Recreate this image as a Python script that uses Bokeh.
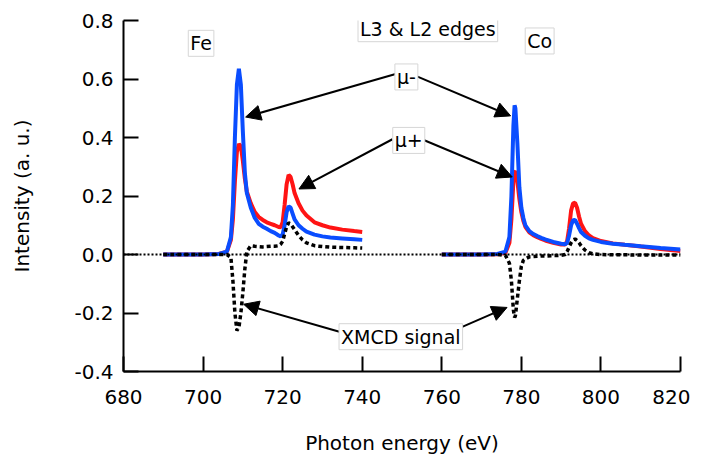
from bokeh.plotting import figure
from bokeh.models import (Range1d, FixedTicker, PrintfTickFormatter, Span, Label,
                          Arrow, NormalHead)
from bokeh.embed import file_html
from bokeh.resources import INLINE

# ---------------- data ----------------
fe_energy = [690, 700, 704, 706, 707, 707.5, 708, 708.5, 709, 709.5, 710, 710.5, 711,
             712, 713, 714, 715, 716, 717, 718, 719, 719.5, 720, 720.5, 721, 721.5,
             722, 722.5, 723, 724, 725, 726, 728, 730, 732, 735, 738, 740]
fe_mu_minus = [0.0, 0.0, 0.002, 0.01, 0.06, 0.17, 0.40, 0.58, 0.635, 0.58, 0.42, 0.28, 0.21,
               0.16, 0.125, 0.105, 0.095, 0.088, 0.08, 0.074, 0.065, 0.062, 0.068, 0.10, 0.145, 0.165,
               0.16, 0.14, 0.12, 0.10, 0.088, 0.078, 0.068, 0.062, 0.058, 0.055, 0.052, 0.050]
fe_mu_plus = [0.0, 0.0, 0.002, 0.01, 0.05, 0.12, 0.25, 0.35, 0.378, 0.37, 0.32, 0.26, 0.215,
              0.175, 0.145, 0.128, 0.118, 0.11, 0.105, 0.10, 0.094, 0.093, 0.11, 0.17, 0.24, 0.272,
              0.265, 0.24, 0.21, 0.175, 0.15, 0.133, 0.11, 0.10, 0.092, 0.085, 0.08, 0.077]
fe_xmcd = [0.0, 0.0, 0.0, 0.0, -0.01, -0.09, -0.2, -0.26, -0.25, -0.2, -0.13, -0.05, 0.01,
           0.03, 0.028, 0.027, 0.026, 0.027, 0.028, 0.028, 0.03, 0.035, 0.045, 0.07, 0.095, 0.108,
           0.105, 0.095, 0.085, 0.065, 0.05, 0.04, 0.03, 0.027, 0.025, 0.024, 0.023, 0.022]

co_energy = [760, 770, 774, 776, 777, 777.5, 778, 778.3, 778.5, 779, 779.5, 780, 780.5, 781,
             782, 783, 784, 785, 786, 788, 790, 791, 791.5, 792, 792.5, 793, 793.5, 794,
             794.5, 795, 796, 797, 798, 800, 803, 806, 810, 815, 820]
co_mu_minus = [0.0, 0.0, 0.002, 0.01, 0.06, 0.2, 0.44, 0.51, 0.5, 0.38, 0.23, 0.16, 0.125, 0.10,
               0.08, 0.07, 0.063, 0.057, 0.052, 0.043, 0.037, 0.035, 0.04, 0.065, 0.10, 0.117, 0.118, 0.105,
               0.09, 0.077, 0.064, 0.055, 0.05, 0.043, 0.037, 0.033, 0.028, 0.022, 0.017]
co_mu_plus = [0.0, 0.0, 0.001, 0.006, 0.04, 0.12, 0.25, 0.282, 0.285, 0.25, 0.19, 0.145, 0.115, 0.095,
              0.076, 0.066, 0.059, 0.053, 0.048, 0.04, 0.034, 0.034, 0.045, 0.09, 0.15, 0.175, 0.177, 0.16,
              0.13, 0.105, 0.08, 0.065, 0.056, 0.046, 0.038, 0.033, 0.027, 0.019, 0.012]
co_xmcd = [0.0, 0.0, 0.0, -0.003, -0.03, -0.09, -0.19, -0.215, -0.21, -0.15, -0.09, -0.04, -0.02, -0.015,
           -0.008, -0.007, -0.006, -0.005, -0.005, -0.004, -0.003, 0.0, 0.01, 0.025, 0.04, 0.05, 0.053, 0.048,
           0.04, 0.03, 0.015, 0.006, 0.002, 0.0, -0.001, -0.001, -0.002, -0.002, -0.002]

x_ticks = [680, 700, 720, 740, 760, 780, 800, 820]
y_ticks = [-0.4, -0.2, 0.0, 0.2, 0.4, 0.6, 0.8]

# annotations (text, x, y in data units)
note_text = ["Fe", "L3 & L2 edges", "Co", "μ-", "μ+", "XMCD signal"]
note_x = [699.5, 756.5, 784.6, 751.1, 751.7, 749.7]
note_y = [0.722, 0.772, 0.730, 0.607, 0.390, -0.281]

arrow_x0 = [748.4, 753.6, 747.6, 755.0, 734.7, 764.7]
arrow_y0 = [0.617, 0.610, 0.394, 0.394, -0.266, -0.250]
arrow_x1 = [710.7, 777.3, 724.1, 777.7, 710.2, 776.4]
arrow_y1 = [0.470, 0.474, 0.224, 0.265, -0.170, -0.181]

FONT = "DejaVu Sans"

p = figure(frame_width=557, frame_height=351, output_backend="svg", toolbar_location=None,
           x_range=Range1d(680, 820), y_range=Range1d(-0.4, 0.8),
           min_border_left=123, min_border_right=10, min_border_top=20, min_border_bottom=80)
p.outline_line_color = None
p.xgrid.visible = False
p.ygrid.visible = False
p.background_fill_color = "white"
p.border_fill_color = "white"

for ax, ticks, fmt in ((p.xaxis[0], x_ticks, "%d"), (p.yaxis[0], y_ticks, "%.1f")):
    ax.ticker = FixedTicker(ticks=ticks)
    ax.formatter = PrintfTickFormatter(format=fmt)
    ax.major_tick_in = 15
    ax.major_tick_out = 0
    ax.minor_tick_line_color = None
    ax.axis_line_width = 2
    ax.major_tick_line_width = 2
    ax.axis_line_color = "black"
    ax.major_tick_line_color = "black"
    ax.major_label_text_font = FONT
    ax.major_label_text_font_size = "20px"
    ax.major_label_text_color = "black"
    ax.axis_label_text_font = FONT
    ax.axis_label_text_font_size = "20px"
    ax.axis_label_text_font_style = "normal"
    ax.axis_label_text_color = "black"

p.xaxis.axis_label = "Photon energy (eV)"
p.yaxis.axis_label = "Intensity (a. u.)"
p.xaxis.major_label_standoff = 18
p.xaxis.axis_label_standoff = 24
p.yaxis.major_label_standoff = 10
p.yaxis.axis_label_standoff = 37

p.add_layout(Span(location=0, dimension="width", line_color="black",
                  line_width=2, line_dash="2 2"))

RED = "#ff1414"
BLUE = "#0a4dff"
for xs, plus, minus, xm in ((fe_energy, fe_mu_plus, fe_mu_minus, fe_xmcd),
                            (co_energy, co_mu_plus, co_mu_minus, co_xmcd)):
    p.line(xs, plus, line_color=RED, line_width=4)
    p.line(xs, minus, line_color=BLUE, line_width=4)
    p.line(xs, xm, line_color="black", line_width=3.5, line_dash="4 3")

for x0, y0, x1, y1 in zip(arrow_x0, arrow_y0, arrow_x1, arrow_y1):
    p.add_layout(Arrow(x_start=x0, y_start=y0, x_end=x1, y_end=y1,
                       line_color="black", line_width=2,
                       end=NormalHead(size=15, fill_color="black", line_color="black")))

for t, x, y in zip(note_text, note_x, note_y):
    p.add_layout(Label(x=x, y=y, text=t, text_align="center", text_baseline="middle",
                       text_font=FONT, text_font_size="19px", text_color="black",
                       background_fill_color="white", border_line_color="#d6d6d6",
                       border_line_width=1, padding=2))

open("out.html", "w").write(file_html(p, INLINE))
